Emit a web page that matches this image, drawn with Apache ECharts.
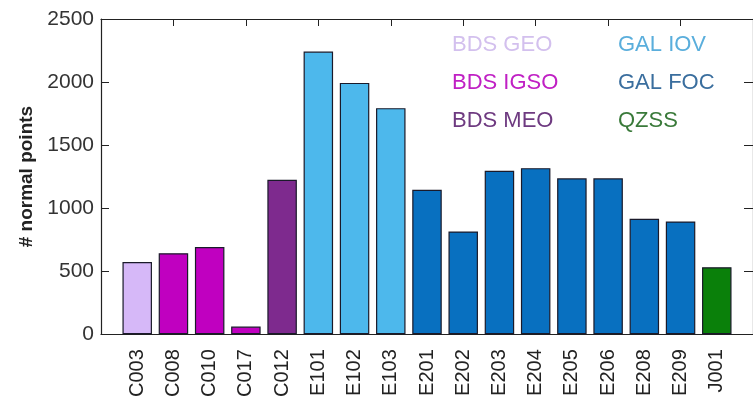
<!DOCTYPE html>
<html>
<head>
<meta charset="utf-8">
<script src="https://cdn.jsdelivr.net/npm/echarts@6/dist/echarts.min.js"></script>
<style>html,body{margin:0;padding:0;background:#fff;}#c{width:753px;height:400px;}</style>
</head>
<body>
<div id="c"></div>
<script>
const categories = ['C003','C008','C010','C017','C012','E101','E102','E103','E201','E202','E203','E204','E205','E206','E208','E209','J001'];
const values = [572, 642, 692, 60, 1225, 2242, 1993, 1793, 1146, 815, 1296, 1317, 1236, 1236, 915, 894, 531];
const groupOf = ['BDS GEO','BDS IGSO','BDS IGSO','BDS IGSO','BDS MEO','GAL IOV','GAL IOV','GAL IOV','GAL FOC','GAL FOC','GAL FOC','GAL FOC','GAL FOC','GAL FOC','GAL FOC','GAL FOC','QZSS'];
const groups = ['BDS GEO','BDS IGSO','BDS MEO','GAL IOV','GAL FOC','QZSS'];
const groupColors = ['#D6B8F8','#C000C0','#7E2A8E','#4DB8EC','#0870C0','#0A800A'];
const legendTextColors = ['#D3C0EE','#C020C4','#6E3A80','#5AAEDC','#3A6E9E','#3A7A3A'];
const yTicks = [0, 500, 1000, 1500, 2000, 2500];

const chart = echarts.init(document.getElementById('c'));
const axisColor = '#222';
const FONT = 'Liberation Sans, Arial, sans-serif';
const series = groups.map((g, gi) => ({
  name: g,
  type: 'bar',
  xAxisIndex: 0,
  yAxisIndex: 0,
  barWidth: 29.5,
  barGap: '-100%',
  itemStyle: { color: groupColors[gi], borderColor: '#1a1a2a', borderWidth: 1.2 },
  data: categories.map((c, i) => groupOf[i] === g ? [i + 1, values[i]] : null).filter(d => d)
}));

const legendItem = (g) => ({ name: g, textStyle: { color: legendTextColors[groups.indexOf(g)] } });
const legendCommon = {
  orient: 'vertical',
  itemWidth: 0,
  itemHeight: 0,
  itemGap: 16,
  textStyle: { fontFamily: FONT, fontSize: 22 },
  selectedMode: false,
  top: 29
};

chart.setOption({
  animation: false,
  backgroundColor: '#fff',
  grid: { left: 101, top: 19, width: 660, height: 317, containLabel: false },
  legend: [
    Object.assign({}, legendCommon, { left: 441, data: groups.slice(0, 3).map(legendItem) }),
    Object.assign({}, legendCommon, { left: 607, data: groups.slice(3).map(legendItem) })
  ],
  xAxis: [
    {
      type: 'value', min: 0, max: 18, interval: 1, position: 'bottom',
      axisLine: { show: true, onZero: false, lineStyle: { color: axisColor, width: 1.2 } },
      axisTick: { show: false },
      splitLine: { show: false },
      axisLabel: {
        rotate: 90, margin: 15, color: '#222',
        fontFamily: FONT, fontSize: 20,
        formatter: v => categories[v - 1] || ''
      }
    },
    {
      type: 'value', min: 0, max: 18, interval: 2, position: 'top',
      axisLine: { show: true, onZero: false, lineStyle: { color: axisColor, width: 1.2 } },
      axisTick: { show: true, inside: true, length: 7, lineStyle: { color: axisColor } },
      splitLine: { show: false },
      axisLabel: { show: false }
    }
  ],
  yAxis: [
    {
      type: 'value', min: yTicks[0], max: yTicks[yTicks.length - 1], interval: 500, position: 'left',
      name: '# normal points', nameLocation: 'middle', nameGap: 64,
      nameTextStyle: { color: '#222', fontWeight: 'bold', fontSize: 19, fontFamily: FONT },
      axisLine: { show: true, onZero: false, lineStyle: { color: axisColor, width: 1.2 } },
      axisTick: { show: true, inside: true, length: 8, lineStyle: { color: axisColor } },
      splitLine: { show: false },
      axisLabel: { color: '#333', fontSize: 21, margin: 7, fontFamily: FONT, formatter: v => String(v) }
    },
    {
      type: 'value', min: yTicks[0], max: yTicks[yTicks.length - 1], interval: 500, position: 'right',
      axisLine: { show: true, onZero: false, lineStyle: { color: axisColor, width: 1.2 } },
      axisTick: { show: true, inside: true, length: 9, lineStyle: { color: axisColor } },
      splitLine: { show: false },
      axisLabel: { show: false }
    }
  ],
  series: series
});
</script>
</body>
</html>
